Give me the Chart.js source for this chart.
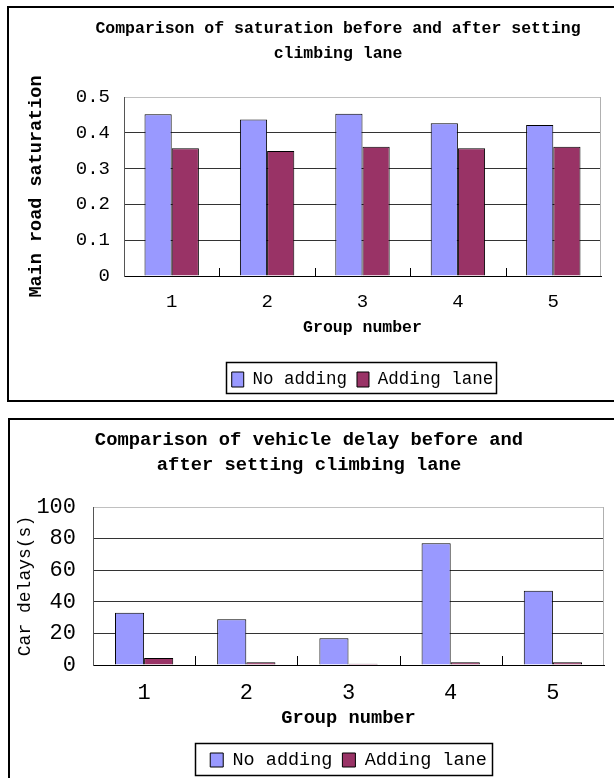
<!DOCTYPE html>
<html>
<head>
<meta charset="utf-8">
<script src="https://cdn.jsdelivr.net/npm/chart.js@4"></script>
<style>
  html, body { margin: 0; padding: 0; background: #fff; overflow: hidden; width: 614px; height: 778px; }
  .frame { position: absolute; border: 2px solid #000; }
  #frame1 { left: 7px; top: 6px; width: 700px; height: 392px; }
  #frame2 { left: 8px; top: 418px; width: 700px; height: 500px; }
  canvas { position: absolute; left: 0; }
  #satChart { top: 0; }
  #delayChart { top: 400px; }
</style>
</head>
<body>
<div class="frame" id="frame1"></div>
<div class="frame" id="frame2"></div>
<canvas id="satChart" width="614" height="400"></canvas>
<canvas id="delayChart" width="614" height="380"></canvas>
<script>
// datos
const groups = ['1', '2', '3', '4', '5'];
const seriesNames = ['No adding', 'Adding lane'];

const satNoAdding = [0.452, 0.437, 0.453, 0.427, 0.422];
const satAdding = [0.357, 0.349, 0.361, 0.357, 0.361];

const delayNoAdding = [33, 29, 17, 77, 47];
const delayAdding = [4.5, 1.7, 0.8, 1.7, 1.7];

const satAxis = { min: 0, max: 0.5, step: 0.1 };
const delayAxis = { min: 0, max: 100, step: 20 };

const blue = '#9999FF';
const wine = '#993366';
const mono = "'Liberation Mono', 'DejaVu Sans Mono', monospace";

Chart.defaults.font.family = mono;
Chart.defaults.color = '#000';

// marco de la leyenda (Chart.js no lo dibuja)
const legendBorder = {
    id: 'legendBorder',
    afterDraw(chart, args, opts) {
        const boxes = chart.legend && chart.legend.legendHitBoxes;
        if (!boxes || !boxes.length) return;
        const left = Math.min(...boxes.map(b => b.left)) - opts.padLeft;
        const right = Math.max(...boxes.map(b => b.left + b.width)) + opts.padRight;
        const mid = boxes[0].top + boxes[0].height / 2;
        const ctx = chart.ctx;
        ctx.save();
        ctx.strokeStyle = '#000';
        ctx.lineWidth = 1.5;
        ctx.strokeRect(Math.round(left) + 0.5, Math.round(mid - opts.above) + 0.5,
            Math.round(right - left), Math.round(opts.above + opts.below));
        ctx.restore();
    }
};

// marcas hacia dentro entre grupos y borde derecho gris
const innerTicks = {
    id: 'innerTicks',
    afterDatasetsDraw(chart, args, opts) {
        const { ctx, chartArea, scales: { x } } = chart;
        ctx.save();
        ctx.strokeStyle = '#000';
        ctx.lineWidth = 1;
        for (let i = 1; i < x.ticks.length; i++) {
            const px = Math.round((x.getPixelForTick(i - 1) + x.getPixelForTick(i)) / 2) + 0.5;
            ctx.beginPath();
            ctx.moveTo(px, chartArea.bottom);
            ctx.lineTo(px, chartArea.bottom - opts.length);
            ctx.stroke();
        }
        ctx.strokeStyle = '#b0b0b0';
        const rx = Math.round(chartArea.right) - 0.5;
        ctx.beginPath();
        ctx.moveTo(rx, chartArea.top);
        ctx.lineTo(rx, chartArea.bottom);
        ctx.stroke();
        ctx.restore();
    }
};

function makeDatasets(a, b) {
    return [
        { label: seriesNames[0], data: a, backgroundColor: blue, borderColor: '#000', borderWidth: 1,
          categoryPercentage: 0.57, barPercentage: 1.0 },
        { label: seriesNames[1], data: b, backgroundColor: wine, borderColor: '#000', borderWidth: 1,
          categoryPercentage: 0.57, barPercentage: 1.0 }
    ];
}

function getOptions(s) {
    return {
        responsive: false,
        animation: false,
        layout: { padding: s.layout },
        plugins: {
            title: {
                display: true,
                text: s.title,
                color: '#000',
                font: { size: s.titleSize, weight: 'bold', lineHeight: '25px' },
                padding: { top: s.titlePadTop, bottom: s.titlePadBottom }
            },
            legend: {
                position: 'bottom',
                fullSize: false,
                labels: {
                    boxWidth: s.legendBox[0],
                    boxHeight: s.legendBox[1],
                    padding: 10,
                    color: '#000',
                    font: { size: s.legendSize }
                }
            },
            tooltip: { enabled: false },
            legendBorder: s.legendFrame,
            innerTicks: { length: s.tickLen }
        },
        scales: {
            x: {
                grid: { drawOnChartArea: false, drawTicks: false },
                border: { color: '#000', width: 1 },
                ticks: { padding: s.xTickPad, font: { size: s.tickSize }, color: '#000' },
                title: {
                    display: true,
                    text: 'Group number',
                    color: '#000',
                    font: { size: s.xTitleSize, weight: 'bold' },
                    padding: { top: 0, bottom: s.xTitlePad }
                },
                afterFit: scale => { scale.height = s.xHeight; }
            },
            y: {
                min: s.axis.min,
                max: s.axis.max,
                ticks: { stepSize: s.axis.step, padding: s.yTickPad, font: { size: s.tickSize }, color: '#000' },
                grid: {
                    drawTicks: false,
                    color: ctx => (ctx.tick && ctx.tick.value === s.axis.max) ? '#c0c0c0' : '#333'
                },
                border: { color: '#555', width: 1 },
                title: {
                    display: true,
                    text: s.yTitle,
                    color: '#000',
                    font: { size: s.yTitleSize, weight: s.yTitleWeight },
                    padding: { top: s.yTitlePad, bottom: 0 }
                },
                afterFit: scale => { scale.width = s.yWidth; }
            }
        }
    };
}

// Grafico de saturacion
new Chart(document.getElementById('satChart'), {
    type: 'bar',
    data: { labels: groups, datasets: makeDatasets(satNoAdding, satAdding) },
    options: getOptions({
        layout: { left: 75, right: 13, top: 0, bottom: 1.75 },
        title: ['Comparison of saturation before and after setting', 'climbing lane'],
        titleSize: 16.5, titlePadTop: 16.5, titlePadBottom: 30.5,
        legendBox: [12, 15], legendSize: 17.5,
        legendFrame: { padLeft: 6, padRight: 2, above: 17.5, below: 13.5 },
        tickLen: 8,
        tickSize: 19, xTickPad: 14.6, yTickPad: 14,
        xTitleSize: 16.5, xTitlePad: 22.85, xHeight: 84.75,
        axis: satAxis,
        yTitle: 'Main road saturation', yTitleSize: 18.5, yTitleWeight: 'bold', yTitlePad: -50.1,
        yWidth: 49
    }),
    plugins: [legendBorder, innerTicks]
});

// Grafico de demoras
new Chart(document.getElementById('delayChart'), {
    type: 'bar',
    data: { labels: groups, datasets: makeDatasets(delayNoAdding, delayAdding) },
    options: getOptions({
        layout: { left: 14, right: 10, top: 0, bottom: 0.75 },
        title: ['Comparison of vehicle delay before and', 'after setting climbing lane'],
        titleSize: 18.8, titlePadTop: 27.5, titlePadBottom: 29.5,
        legendBox: [13, 14], legendSize: 18.5,
        legendFrame: { padLeft: 15, padRight: 5, above: 17, below: 15 },
        tickLen: 9,
        tickSize: 22, xTickPad: 14.8, yTickPad: 17,
        xTitleSize: 18.7, xTitlePad: 11.53, xHeight: 75.75,
        axis: delayAxis,
        yTitle: 'Car delays(s)', yTitleSize: 18, yTitleWeight: 'normal', yTitlePad: 0.2,
        yWidth: 79
    }),
    plugins: [legendBorder, innerTicks]
});
</script>
</body>
</html>
